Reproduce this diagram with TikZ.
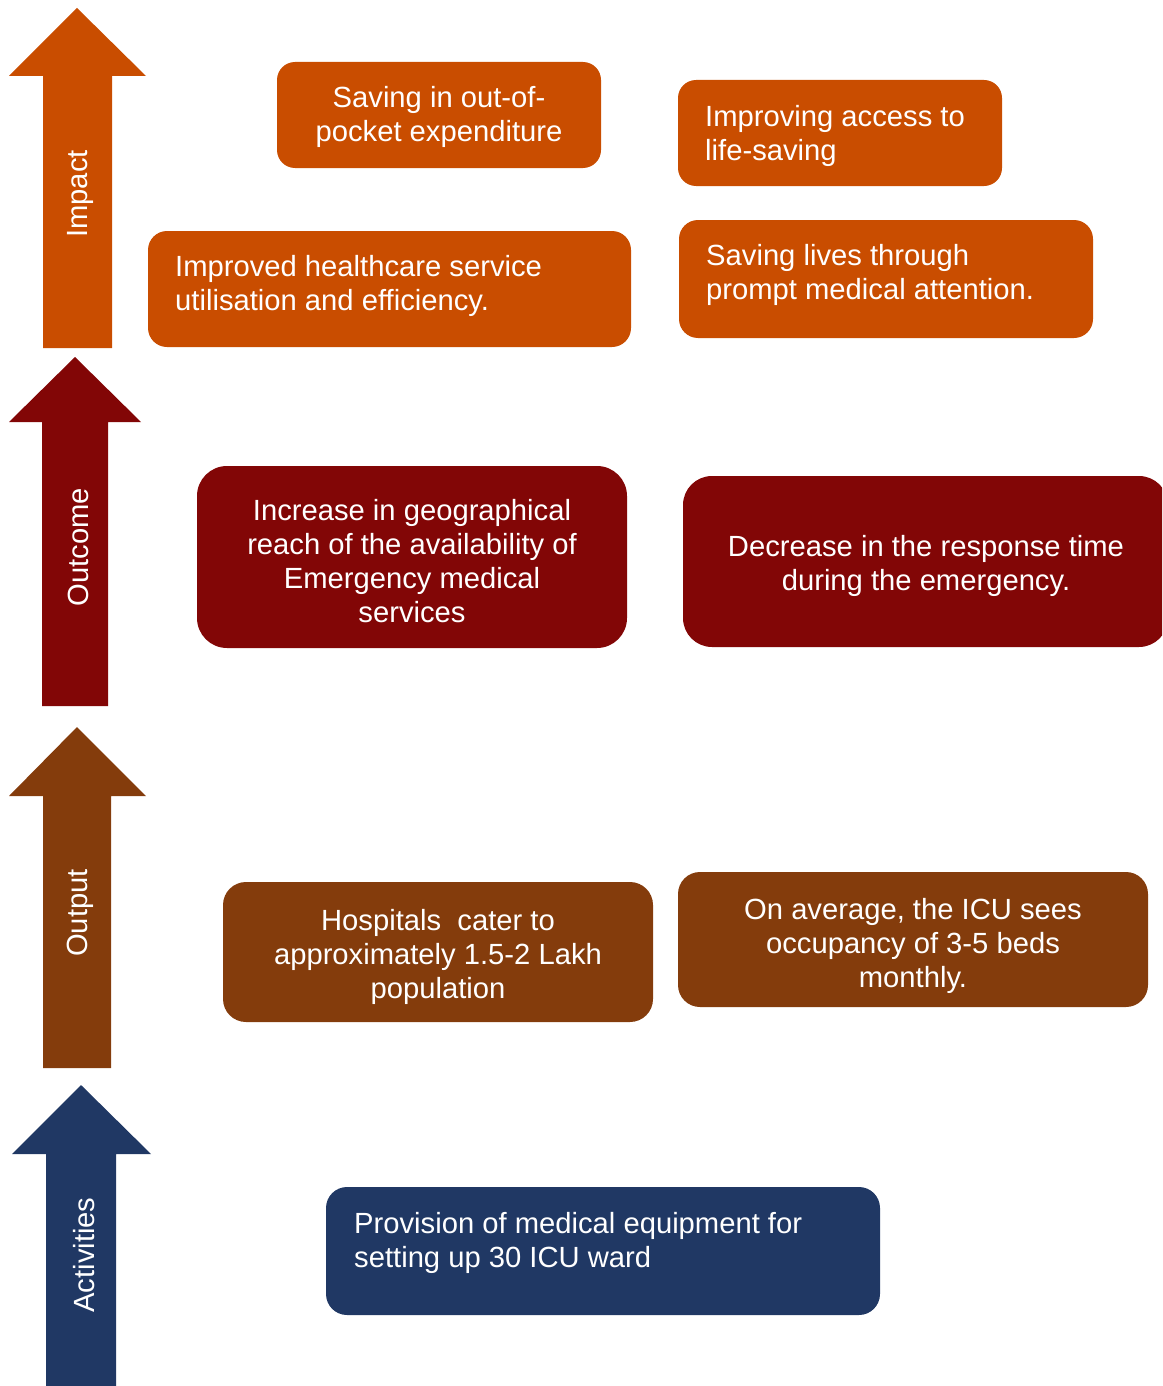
\documentclass[tikz,border=0pt]{standalone}
\usepackage{fontspec}
\setmainfont{Liberation Sans}
\definecolor{cimpact}{HTML}{C94D00}
\definecolor{coutcome}{HTML}{820606}
\definecolor{coutput}{HTML}{843C0C}
\definecolor{cact}{HTML}{203864}
\tikzset{
  txt/.style={text=white, inner sep=0pt, font=\fontsize{29.2}{34}\selectfont},
  txtc/.style={txt, align=center},
  txtl/.style={txt, align=left, anchor=west},
  arrlabel/.style={txt, rotate=90},
}
\begin{document}
\begin{tikzpicture}[x=1pt,y=-1pt]
\useasboundingbox (0,0) rectangle (1162,1386);
\begin{scope}
\clip (0,0) rectangle (1162,1386);
% arrows
\fill[cimpact] (43,348) -- (43,76) -- (9,76) -- (77,8) -- (146,76) -- (112,76) -- (112,348) -- cycle;
\fill[coutcome] (42,706) -- (42,422) -- (9,422) -- (75,357) -- (141,422) -- (108,422) -- (108,706) -- cycle;
\fill[coutput] (43,1068) -- (43,796) -- (9,796) -- (77,727) -- (146,796) -- (111,796) -- (111,1068) -- cycle;
\fill[cact] (46,1390) -- (46,1154) -- (12,1154) -- (81,1085) -- (151,1154) -- (116,1154) -- (116,1390) -- cycle;
\node[arrlabel] (limpact) at (80,194) {Impact};
\node[arrlabel] (loutcome) at (78,547) {Outcome};
\node[arrlabel] (loutput) at (80,913) {Output};
\node[arrlabel] (lact) at (84,1255) {Activities};
% boxes
\fill[cimpact, rounded corners=18pt] (277,62) rectangle (601,168);
\fill[cimpact, rounded corners=18pt] (678,80) rectangle (1002,186);
\fill[cimpact, rounded corners=19pt] (148,231) rectangle (631,347);
\fill[cimpact, rounded corners=19pt] (679,220) rectangle (1093,338);
\fill[coutcome, rounded corners=30pt] (197,466) rectangle (627,648);
\fill[coutcome, rounded corners=29pt] (683,476) rectangle (1168,647);
\fill[coutput, rounded corners=23pt] (223,882) rectangle (653,1022);
\fill[coutput, rounded corners=22pt] (678,872) rectangle (1148,1007);
\fill[cact, rounded corners=21pt] (326,1187) rectangle (880,1315);
% texts
\node[txtc] (t1) at (439,117) {Saving in out-of-\\pocket expenditure};
\node[txtl] (t2) at (705,136) {Improving access to\\life-saving};
\node[txtl] (t3) at (175,286) {Improved healthcare service\\utilisation and efficiency.};
\node[txtl] (t4) at (706,275) {Saving lives through\\prompt medical attention.};
\node[txtc] (t5) at (412,561) {Increase in geographical\\reach of the availability of\\Emergency medical\\services};
\node[txtc] (t6) at (926,566) {Decrease in the response time\\during the emergency.};
\node[txtc] (t7) at (438,957) {Hospitals\ \ cater to\\approximately 1.5-2 Lakh\\population};
\node[txtc] (t8) at (913,946) {On average, the ICU sees\\occupancy of 3-5 beds\\monthly.};
\node[txtl] (t9) at (354,1243) {Provision of medical equipment for\\setting up 30 ICU ward};
\end{scope}
\end{tikzpicture}
\end{document}
